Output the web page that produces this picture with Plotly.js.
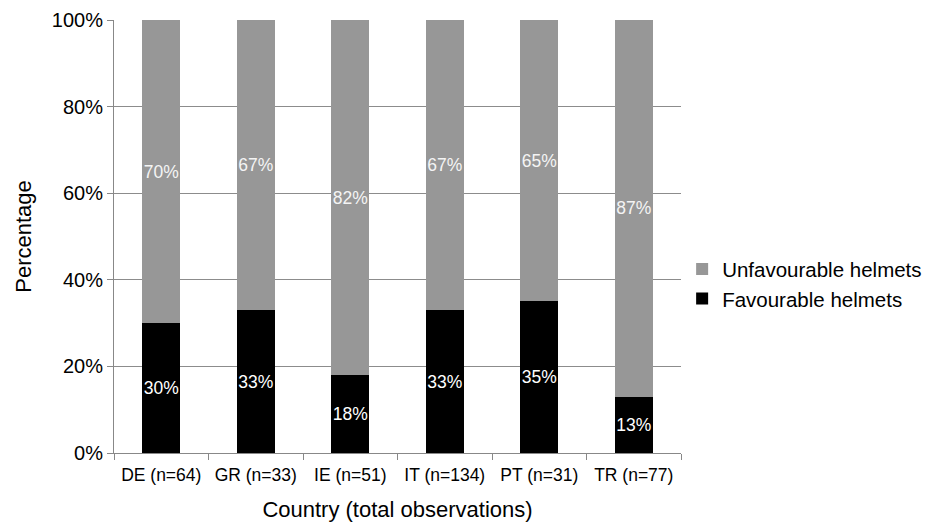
<!DOCTYPE html>
<html><head><meta charset="utf-8">
<script src="https://cdn.plot.ly/plotly-3.0.1.min.js"></script>
<style>html,body{margin:0;padding:0;background:#fff}#c{width:927px;height:522px}</style>
</head><body><div id="c"></div>
<script>
const categories = ["DE (n=64)", "GR (n=33)", "IE (n=51)", "IT (n=134)", "PT (n=31)", "TR (n=77)"];
const favourable = [30, 33, 18, 33, 35, 13];
const unfavourable = [70, 67, 82, 67, 65, 87];
const yTicks = [0, 20, 40, 60, 80, 100];

const font = "Liberation Sans, Arial, sans-serif";
const traces = [
  {type:'bar', name:'Favourable helmets', x:categories, y:favourable,
   marker:{color:'#000000'}, text:favourable.map(v=>v+'%'), textposition:'inside',
   insidetextanchor:'middle', textangle:0, constraintext:'none',
   insidetextfont:{family:font, size:17.5, color:'#ffffff'}, hoverinfo:'skip'},
  {type:'bar', name:'Unfavourable helmets', x:categories, y:unfavourable,
   marker:{color:'#979797'}, text:unfavourable.map(v=>v+'%'), textposition:'inside',
   insidetextanchor:'middle', textangle:0, constraintext:'none',
   insidetextfont:{family:font, size:17.5, color:'#f4f4f4'}, hoverinfo:'skip'}
];
const layout = {
  width:927, height:522, paper_bgcolor:'#fff', plot_bgcolor:'#fff',
  margin:{l:114, r:246, t:20, b:69, autoexpand:false},
  barmode:'stack', bargap:0.6,
  font:{family:font, size:16, color:'#000'},
  xaxis:{type:'category', tickson:'boundaries', ticks:'outside', ticklen:6, tickcolor:'#888',
    showline:true, linecolor:'#888', linewidth:1, showgrid:false, ticklabelstandoff:6, tickangle:0,
    automargin:false,
    tickfont:{size:17.5}, title:{text:'Country (total observations)', font:{size:22}, standoff:17}},
  yaxis:{range:[0,100], tickvals:yTicks, ticktext:yTicks.map(v=>v+'%'), ticks:'outside', ticklen:6, tickcolor:'#888',
    showline:true, linecolor:'#888', linewidth:1, showgrid:true, gridcolor:'#8c8c8c', gridwidth:1,
    automargin:false,
    zeroline:false, tickfont:{size:20}, title:{text:'Percentage', font:{size:22}, standoff:14}},
  legend:{x:1.002, xanchor:'left', y:0.39, yanchor:'middle', traceorder:'reversed',
    font:{size:20.5}, bgcolor:'rgba(0,0,0,0)'},
  showlegend:true
};
Plotly.newPlot('c', traces, layout, {staticPlot:true});
</script></body></html>
